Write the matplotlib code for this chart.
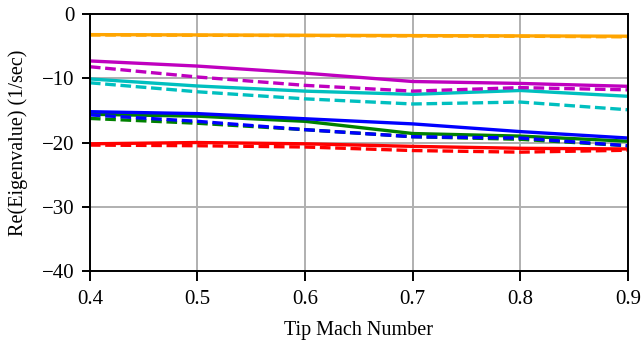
import matplotlib
matplotlib.use("Agg")
import matplotlib.pyplot as plt
import numpy as np

plt.rcParams['font.family'] = ['Liberation Serif', 'DejaVu Serif']

# tip Mach number sweep
mach = [0.4, 0.5, 0.6, 0.7, 0.8, 0.9]

# real part of eigenvalues, solid = model A, dashed = model B
red_a = [-20.2, -20.0, -20.2, -20.6, -20.9, -21.0]
red_b = [-20.4, -20.5, -20.7, -21.25, -21.5, -21.2]
green_a = [-15.6, -15.9, -16.7, -18.6, -19.0, -19.8]
green_b = [-16.25, -17.0, -18.0, -19.1, -19.5, -20.5]
blue_a = [-15.2, -15.5, -16.3, -17.1, -18.3, -19.3]
blue_b = [-15.7, -16.7, -18.0, -19.1, -19.3, -20.5]
cyan_a = [-10.1, -11.2, -12.0, -12.5, -11.9, -12.8]
cyan_b = [-10.7, -12.1, -13.2, -14.0, -13.7, -14.9]
mag_a = [-7.3, -8.1, -9.2, -10.5, -10.8, -11.25]
mag_b = [-8.2, -9.8, -11.1, -12.0, -11.45, -11.8]
orange_a = [-3.2, -3.25, -3.3, -3.35, -3.4, -3.45]
orange_b = [-3.25, -3.3, -3.35, -3.4, -3.45, -3.55]

series = [
    ("red", red_a, red_b),
    ("green", green_a, green_b),
    ("blue", blue_a, blue_b),
    ("c", cyan_a, cyan_b),
    ("m", mag_a, mag_b),
    ("orange", orange_a, orange_b),
]

fig = plt.figure(figsize=(6.42, 3.43), dpi=100)
ax = fig.add_axes([0.14, 0.21, 0.838, 0.749])

lw = 2.4
for color, a, b in series:
    ax.plot(mach, a, color=color, lw=lw, solid_capstyle="butt")
    ax.plot(mach, b, color=color, lw=lw, ls=(0, (3.2, 1.4)))

ax.set_xlim(0.4, 0.9)
ax.set_ylim(-40, 0)
ax.set_xticks(np.arange(0.4, 0.91, 0.1))
ax.set_yticks([0, -10, -20, -30, -40])
ax.set_xticklabels(["0.4", "0.5", "0.6", "0.7", "0.8", "0.9"])
ax.set_yticklabels(["0", "\u221210", "\u221220", "\u221230", "\u221240"])
ax.grid(True, color="#b0b0b0", lw=1.4)
ax.set_axisbelow(True)
for s in ax.spines.values():
    s.set_linewidth(1.4)
ax.tick_params(axis="both", direction="out", width=1.4, labelsize=15)
ax.tick_params(axis="x", length=7, pad=7)
ax.tick_params(axis="y", length=6, pad=5)
ax.set_xlabel("Tip Mach Number", fontsize=14.5, labelpad=8)
ax.set_ylabel("Re(Eigenvalue) (1/sec)", fontsize=14.5, labelpad=10)

plt.savefig("out.png", dpi=100)
